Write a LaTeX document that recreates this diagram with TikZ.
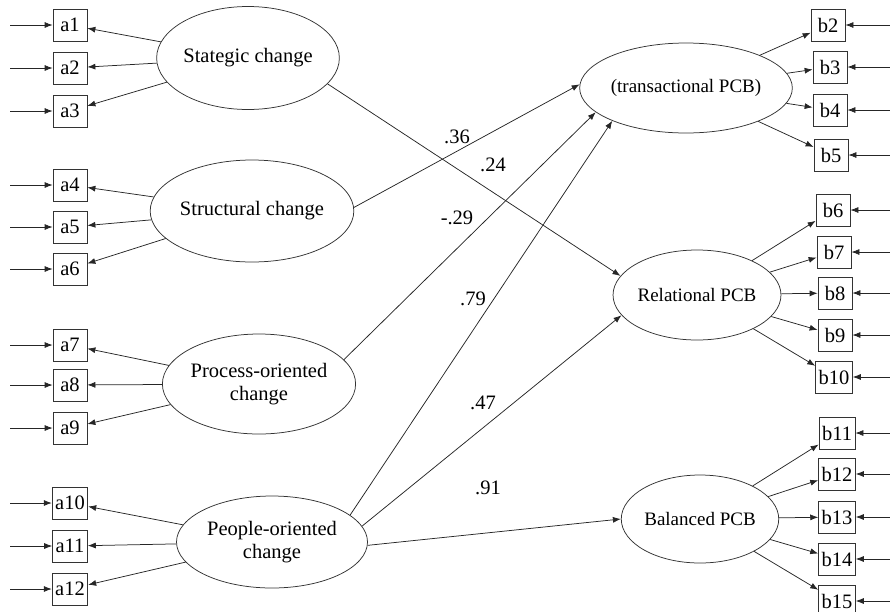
\documentclass[tikz,border=0pt]{standalone}
\usepackage{fontspec}
\setmainfont{Liberation Serif}
\usetikzlibrary{shapes.geometric, arrows.meta}
\tikzset{
  latent/.style={ellipse, draw=black!80, inner sep=0pt, align=center},
  indic/.style={draw=black!80, minimum width=34pt, minimum height=32pt, inner xsep=3pt, inner ysep=2pt},
  arr/.style={-{Latex[length=8pt,width=6pt]}, black!85},
  coef/.style={inner sep=1pt},
}

\begin{document}
\begin{tikzpicture}[x=1pt, y=-1pt, font=\fontsize{20.5}{23}\selectfont, line width=0.75pt]
    \useasboundingbox (0,0) rectangle (890,611);

    % Latent variables
    \node[latent, minimum width=170pt, minimum height=103pt] (st) at (248,58) {Stategic change};
    \node[latent, minimum width=177pt, minimum height=102pt] (sc) at (252,211) {Structural change};
    \node[latent, minimum width=178pt, minimum height=100pt] (po) at (259,384) {Process-oriented\\change};
    \node[latent, minimum width=191pt, minimum height=92pt] (pe) at (272,542) {People-oriented\\change};
    \node[latent, minimum width=150pt, minimum height=90pt, font=\fontsize{19}{22}\selectfont] (tr) at (686,88) {(transactional PCB)};
    \node[latent, minimum width=126pt, minimum height=90pt, font=\fontsize{19}{22}\selectfont] (re) at (697,295) {Relational PCB};
    \node[latent, minimum width=126pt, minimum height=88pt, font=\fontsize{19}{22}\selectfont] (ba) at (700,519) {Balanced PCB};

    % Indicators
    \coordinate (ledge) at (10,0);
    \coordinate (redge) at (892,0);
    \foreach \n/\y in {1/25,2/68,3/111,4/185,5/227,6/269,7/345,8/385,9/428,10/503,11/546,12/589} {
      \node[indic] (a\n) at (70,\y) {a\n};
      \coordinate (ea\n) at (a\n.west -| ledge);
      \draw[arr] (ea\n) -- (a\n);
    }
    \foreach \n/\x/\y in {2/828/25,3/830/67,4/830/110,5/831/155,6/833/210,7/834/252,8/835/293,
                          9/835/335,10/834/377,11/837/433,12/837/474,13/837/517,14/837/559,15/837/601} {
      \node[indic] (b\n) at (\x,\y) {b\n};
      \coordinate (eb\n) at (b\n.east -| redge);
      \draw[arr] (eb\n) -- (b\n);
    }

    % Loadings
    \foreach \l/\lst in {st/{1,2,3}, sc/{4,5,6}, po/{7,8,9}, pe/{10,11,12}}
      \foreach \i in \lst
        \draw[arr] (\l) -- (a\i);
    \foreach \l/\lst in {tr/{2,3,4,5}, re/{6,7,8,9,10}, ba/{11,12,13,14,15}}
      \foreach \i in \lst
        \draw[arr] (\l) -- (b\i);

    % Structural paths
    \draw[arr] (st.-18) -- (re.166);
    \draw[arr] (sc.2) -- (tr.178);
    \draw[arr] (po.16) -- (tr.195);
    \draw[arr] (pe.19) -- (tr.204);
    \draw[arr] (pe.10) -- (re.195);
    \draw[arr] (pe.-2) -- (ba.180);

    % Coefficients
    \node[coef] (c36) at (457,137) {.36};
    \node[coef] (c24) at (493,165) {.24};
    \node[coef] (c29) at (457,218) {-.29};
    \node[coef] (c79) at (473,299) {.79};
    \node[coef] (c47) at (483,403) {.47};
    \node[coef] (c91) at (488,488) {.91};
\end{tikzpicture}
\end{document}
